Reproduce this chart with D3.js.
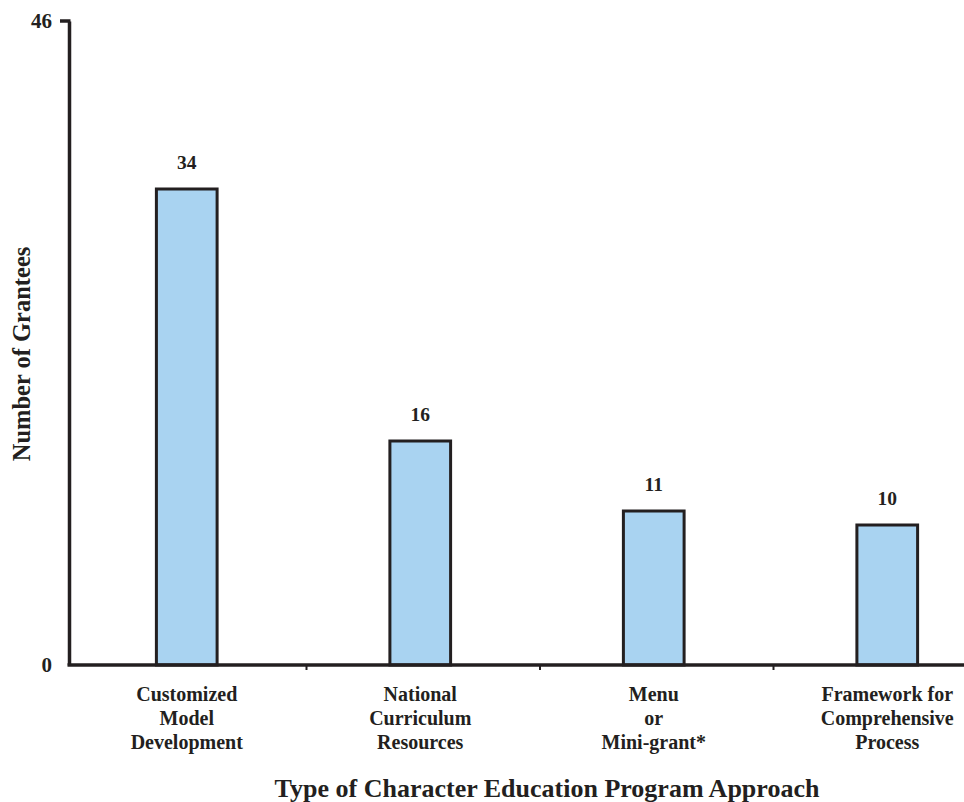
<!DOCTYPE html>
<html>
<head>
<meta charset="utf-8">
<script src="https://cdn.jsdelivr.net/npm/d3@7"></script>
<style>
  html, body { margin: 0; padding: 0; background: #fff; }
  svg { display: block; }
  text { font-family: "Liberation Serif", "Times New Roman", serif; font-weight: bold; fill: #231f20; }
</style>
</head>
<body>
<svg id="chart" width="964" height="802"></svg>
<script>
const categories = [
  ["Customized", "Model", "Development"],
  ["National", "Curriculum", "Resources"],
  ["Menu", "or", "Mini-grant*"],
  ["Framework for", "Comprehensive", "Process"]
];
const values = [34, 16, 11, 10];
const yTicks = [0, 46];
const yTitle = "Number of Grantees";
const xTitle = "Type of Character Education Program Approach";

const svg = d3.select("#chart");
const ink = "#231f20";

const x = d3.scaleBand()
  .domain(d3.range(categories.length))
  .range([70, 1004])
  .paddingInner(0).paddingOuter(0);
const y = d3.scaleLinear().domain([0, 46]).range([665, 21]);

const barW = x.bandwidth() * 0.26;

// bars
svg.selectAll("rect.bar")
  .data(values)
  .enter().append("rect")
  .attr("class", "bar")
  .attr("x", (d, i) => x(i) + x.bandwidth() / 2 - barW / 2)
  .attr("y", d => y(d))
  .attr("width", barW)
  .attr("height", d => y(0) - y(d))
  .attr("fill", "#a9d3f1")
  .attr("stroke", ink)
  .attr("stroke-width", 3);

// value labels
svg.selectAll("text.val")
  .data(values)
  .enter().append("text")
  .attr("class", "val")
  .attr("x", (d, i) => x(i) + x.bandwidth() / 2)
  .attr("y", d => y(d) - 20)
  .attr("text-anchor", "middle")
  .style("font-size", "19.5px")
  .text(d => d);

// y axis (line via d3 axis, labels drawn explicitly)
const yAxis = svg.append("g")
  .attr("transform", `translate(${x.range()[0] - 1},0)`)
  .call(d3.axisLeft(y).tickValues(yTicks).tickSize(0).tickFormat(""));
yAxis.select(".domain").attr("stroke", ink).attr("stroke-width", 3.5);
svg.selectAll("text.ytick")
  .data(yTicks)
  .enter().append("text")
  .attr("class", "ytick")
  .attr("x", 52)
  .attr("y", d => y(d) + 7)
  .attr("text-anchor", "end")
  .style("font-size", "21px")
  .text(d => d);
// top tick mark
svg.append("line")
  .attr("x1", x.range()[0] - 10).attr("x2", x.range()[0] + 0.5)
  .attr("y1", y(46)).attr("y2", y(46))
  .attr("stroke", ink).attr("stroke-width", 3.5);

// x axis
const xAxisG = svg.append("g").attr("transform", `translate(0,${y(0)})`);
xAxisG.append("line")
  .attr("x1", x.range()[0] - 2.5).attr("x2", x.range()[1])
  .attr("y1", 0).attr("y2", 0)
  .attr("stroke", ink).attr("stroke-width", 3.5);
xAxisG.selectAll("line.tk")
  .data(d3.range(1, categories.length))
  .enter().append("line")
  .attr("class", "tk")
  .attr("x1", i => x(i) + 3).attr("x2", i => x(i) + 3)
  .attr("y1", 0).attr("y2", 5)
  .attr("stroke", ink).attr("stroke-width", 2);

// category labels
const catG = svg.selectAll("text.cat")
  .data(categories)
  .enter().append("text")
  .attr("class", "cat")
  .attr("text-anchor", "middle")
  .style("font-size", "20px");
catG.selectAll("tspan")
  .data((d, i) => d.map(line => ({ line, i })))
  .enter().append("tspan")
  .attr("x", d => x(d.i) + x.bandwidth() / 2)
  .attr("y", (d, j) => 701 + j * 24)
  .text(d => d.line);

// axis titles
svg.append("text")
  .attr("x", 547).attr("y", 797)
  .attr("text-anchor", "middle")
  .style("font-size", "26px")
  .text(xTitle);

svg.append("text")
  .attr("transform", "translate(30,354) rotate(-90)")
  .attr("text-anchor", "middle")
  .style("font-size", "24.5px")
  .text(yTitle);
</script>
</body>
</html>
